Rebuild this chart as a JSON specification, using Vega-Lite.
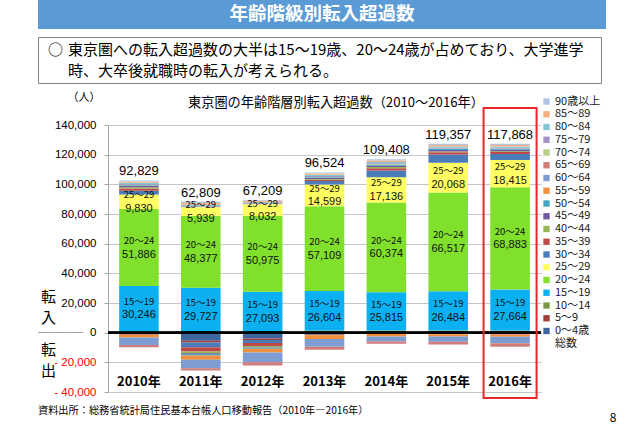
{
  "$schema": "https://vega.github.io/schema/vega-lite/v6.json",
  "padding": {"left": 37, "top": 0, "right": 0, "bottom": 0},
  "spacing": 7,
  "background": "white",
  "resolve": {"legend": {"color": "independent"}},
  "config": {
    "font": "Noto Sans CJK JP",
    "view": {"stroke": null},
    "axis": {"labelOverlap": false, "labelSeparation": -100},
    "axisY": {"labelOverlap": false, "labelSeparation": -100}
  },
  "datasets": {
    "mig": [
      {"year": "2010年", "0～4歳": -1033, "5～9": -300, "10～14": 1200, "15～19": 30246, "20～24": 51886, "25～29": 9830, "30～34": 2500, "35～39": 1500, "40～44": 800, "45～49": 900, "50～54": 600, "55～59": -2000, "60～64": -5000, "65～69": -1500, "70～74": 200, "75～79": 600, "80～84": 800, "85～89": 900, "90歳以上": 700},
      {"year": "2011年", "0～4歳": -5500, "5～9": -1200, "10～14": 500, "15～19": 29727, "20～24": 48377, "25～29": 5939, "30～34": -3200, "35～39": -2800, "40～44": -1200, "45～49": -500, "50～54": -1000, "55～59": -2800, "60～64": -5800, "65～69": -1534, "70～74": 300, "75～79": 500, "80～84": 900, "85～89": 1200, "90歳以上": 900},
      {"year": "2012年", "0～4歳": -4000, "5～9": -1000, "10～14": 500, "15～19": 27093, "20～24": 50975, "25～29": 8032, "30～34": -2000, "35～39": -2000, "40～44": -800, "45～49": -300, "50～54": -700, "55～59": -2600, "60～64": -6500, "65～69": -2191, "70～74": 200, "75～79": 400, "80～84": 700, "85～89": 800, "90歳以上": 600},
      {"year": "2013年", "0～4歳": -1300, "5～9": -400, "10～14": 1500, "15～19": 26604, "20～24": 57109, "25～29": 14599, "30～34": 2500, "35～39": 800, "40～44": 500, "45～49": 700, "50～54": 400, "55～59": -2500, "60～64": -5300, "65～69": -1988, "70～74": 300, "75～79": 600, "80～84": 800, "85～89": 900, "90歳以上": 700},
      {"year": "2014年", "0～4歳": -500, "5～9": -300, "10～14": 1500, "15～19": 25815, "20～24": 60374, "25～29": 17136, "30～34": 4500, "35～39": 1500, "40～44": 800, "45～49": 1000, "50～54": 700, "55～59": -1700, "60～64": -3500, "65～69": -1517, "70～74": 300, "75～79": 600, "80～84": 900, "85～89": 1000, "90歳以上": 800},
      {"year": "2015年", "0～4歳": -700, "5～9": -300, "10～14": 1500, "15～19": 26484, "20～24": 66517, "25～29": 20068, "30～34": 5500, "35～39": 1500, "40～44": 600, "45～49": 1000, "50～54": 800, "55～59": -1500, "60～64": -3700, "65～69": -1812, "70～74": 200, "75～79": 500, "80～84": 800, "85～89": 1000, "90歳以上": 900},
      {"year": "2016年", "0～4歳": -900, "5～9": -300, "10～14": 1500, "15～19": 27664, "20～24": 68883, "25～29": 18415, "30～34": 4000, "35～39": 1300, "40～44": 600, "45～49": 900, "50～54": 700, "55～59": -1600, "60～64": -4300, "65～69": -2394, "70～74": 200, "75～79": 500, "80～84": 800, "85～89": 1000, "90歳以上": 900}
    ],
    "ages": [
      {"age": "0～4歳", "o": 0}, {"age": "5～9", "o": 1}, {"age": "10～14", "o": 2}, {"age": "15～19", "o": 3},
      {"age": "20～24", "o": 4}, {"age": "25～29", "o": 5}, {"age": "30～34", "o": 6}, {"age": "35～39", "o": 7},
      {"age": "40～44", "o": 8}, {"age": "45～49", "o": 9}, {"age": "50～54", "o": 10}, {"age": "55～59", "o": 11},
      {"age": "60～64", "o": 12}, {"age": "65～69", "o": 13}, {"age": "70～74", "o": 14}, {"age": "75～79", "o": 15},
      {"age": "80～84", "o": 16}, {"age": "85～89", "o": 17}, {"age": "90歳以上", "o": 18}
    ]
  },
  "vconcat": [
    {
      "width": 568, "height": 29,
      "data": {"values": [{}]},
      "view": {"fill": "#5B9BD5", "stroke": null},
      "mark": {"type": "text", "color": "white", "fontSize": 18.5, "fontWeight": "bold", "font": "Noto Sans CJK JP", "dy": -0.5},
      "encoding": {"text": {"value": "年齢階級別転入超過数"}}
    },
    {
      "width": 563, "height": 46,
      "data": {"values": [{}]},
      "view": {"stroke": "#7F7F7F", "strokeWidth": 1, "fill": "white"},
      "layer": [
        {
          "mark": {"type": "text", "align": "left", "dx": 10, "dy": -10, "fontSize": 15, "color": "#000000"},
          "encoding": {
            "x": {"datum": 0, "type": "quantitative", "scale": {"domain": [0, 1]}, "axis": null},
            "text": {"value": "○"}
          }
        },
        {
          "mark": {"type": "text", "align": "left", "dx": 30, "dy": -10, "fontSize": 15, "lineHeight": 21, "color": "#000000"},
          "encoding": {
            "x": {"datum": 0, "type": "quantitative", "scale": {"domain": [0, 1]}, "axis": null},
            "text": {"value": ["東京圏への転入超過数の大半は15～19歳、20～24歳が占めており、大学進学", "時、大卒後就職時の転入が考えられる。"]}
          }
        }
      ]
    },
    {
      "spacing": 25,
      "bounds": "flush",
      "resolve": {"legend": {"color": "independent"}},
      "hconcat": [
        {
          "width": 45, "height": 267,
          "data": {"values": [{}]},
          "layer": [
            {
              "mark": {"type": "text", "dx": -12, "fontSize": 15, "lineHeight": 21, "font": "Noto Sans CJK JP", "color": "#000000"},
              "encoding": {
                "y": {"datum": 24000, "type": "quantitative", "scale": {"domain": [-40000, 140000], "nice": false}, "axis": null},
                "text": {"value": ["転", "入"]}
              }
            },
            {
              "mark": {"type": "text", "dx": -12, "fontSize": 15, "lineHeight": 21, "font": "Noto Sans CJK JP", "color": "#000000"},
              "encoding": {
                "y": {"datum": -11700, "type": "quantitative", "axis": null},
                "text": {"value": ["転", "出"]}
              }
            },
            {
              "mark": {"type": "text", "fontSize": 15, "font": "Noto Sans CJK JP", "color": "#595959"},
              "encoding": {
                "y": {"datum": 0, "type": "quantitative", "axis": null},
                "text": {"value": "───"}
              }
            },
            {
              "mark": {"type": "text", "align": "left", "fontSize": 10.2, "font": "Noto Sans CJK JP", "color": "#000000"},
              "encoding": {
                "x": {"datum": 0, "type": "quantitative", "scale": {"domain": [0, 1]}, "axis": null},
                "y": {"datum": -52800, "type": "quantitative", "axis": null},
                "text": {"value": "資料出所：総務省統計局住民基本台帳人口移動報告（2010年―2016年）"}
              }
            }
          ]
        },
        {
          "width": 433, "height": 267,
          "data": {"name": "mig"},
          "layer": [
            {
              "transform": [
                {"fold": ["0～4歳", "5～9", "10～14", "15～19", "20～24", "25～29", "30～34", "35～39", "40～44", "45～49", "50～54", "55～59", "60～64", "65～69", "70～74", "75～79", "80～84", "85～89", "90歳以上"], "as": ["age", "v"]},
                {"lookup": "age", "from": {"data": {"name": "ages"}, "key": "age", "fields": ["o"]}}
              ],
              "mark": {"type": "bar"},
              "encoding": {
                "x": {"field": "year", "type": "nominal", "sort": null, "axis": null, "scale": {"paddingInner": 0.36, "paddingOuter": 0.18}},
                "y": {
                  "field": "v", "type": "quantitative", "stack": "zero",
                  "scale": {"domain": [-40000, 140000], "nice": false},
                  "axis": {
                    "values": [-40000, -20000, 0, 20000, 40000, 60000, 80000, 100000, 120000, 140000],
                    "labelOverlap": false, "labelSeparation": -100, "labelBound": false, "labelFlush": false,
                    "labelExpr": "datum.value < 0 ? '- ' + format(-datum.value, ',') : format(datum.value, ',')",
                    "labelColor": {"condition": {"test": "datum.value < 0", "value": "#FF0000"}, "value": "#000000"},
                    "labelFont": "Liberation Sans", "labelFontSize": 11.5,
                    "labelPadding": 8,
                    "grid": true, "gridColor": "#C6C6C6", "gridWidth": 1,
                    "domain": true, "domainColor": "#A6A6A6",
                    "ticks": true, "tickSize": 4, "tickColor": "#A6A6A6",
                    "title": "（人）", "titleAngle": 0, "titleX": -41, "titleY": -27.5,
                    "titleAlign": "left", "titleBaseline": "middle", "titleFontSize": 11,
                    "titleFontWeight": "normal", "titleFont": "Noto Sans CJK JP", "titleColor": "#000000"
                  }
                },
                "color": {
                  "field": "age", "type": "nominal",
                  "scale": {
                    "domain": ["0～4歳", "5～9", "10～14", "15～19", "20～24", "25～29", "30～34", "35～39", "40～44", "45～49", "50～54", "55～59", "60～64", "65～69", "70～74", "75～79", "80～84", "85～89", "90歳以上", "総数"],
                    "range": ["#3D659F", "#A23D3A", "#7B9843", "#0AB0F0", "#80E02B", "#FFFF62", "#4A7CBA", "#BD4A47", "#96B653", "#7359A0", "#43A6C0", "#F2903F", "#7D9DD3", "#D07D7B", "#B8CE8B", "#A493C3", "#82C5D7", "#F8B080", "#B3C5E5", "rgba(0,0,0,0)"]
                  },
                  "legend": {
                    "orient": "none", "legendX": 433, "legendY": -29, "title": null, "padding": 0,
                    "values": ["90歳以上", "85～89", "80～84", "75～79", "70～74", "65～69", "60～64", "55～59", "50～54", "45～49", "40～44", "35～39", "30～34", "25～29", "20～24", "15～19", "10～14", "5～9", "0～4歳", "総数"],
                    "symbolType": "square", "symbolSize": 40, "symbolStrokeWidth": 0,
                    "labelFont": "Noto Sans CJK JP", "labelFontSize": 11, "labelColor": "#1A1A1A",
                    "labelOffset": 3, "rowPadding": 0.75
                  }
                },
                "order": {"field": "o", "type": "quantitative"}
              }
            },
            {
              "transform": [
                {"fold": ["0～4歳", "5～9", "10～14", "15～19", "20～24", "25～29", "30～34", "35～39", "40～44", "45～49", "50～54", "55～59", "60～64", "65～69", "70～74", "75～79", "80～84", "85～89", "90歳以上"], "as": ["age", "v"]},
                {"lookup": "age", "from": {"data": {"name": "ages"}, "key": "age", "fields": ["o"]}},
                {"stack": "v", "groupby": ["year"], "sort": [{"field": "o", "order": "ascending"}], "as": ["v0", "v1"], "offset": "zero"},
                {"filter": {"field": "age", "oneOf": ["15～19", "20～24", "25～29"]}},
                {"calculate": "(datum.v0 + datum.v1) / 2", "as": "mid"}
              ],
              "layer": [
                {
                  "mark": {"type": "text", "dy": -6.5, "fontSize": 9.5, "font": "Noto Sans CJK JP", "color": "#111111"},
                  "encoding": {
                    "x": {"field": "year", "type": "nominal", "sort": null},
                    "y": {"field": "mid", "type": "quantitative", "axis": {"values": [-40000, -20000, 0, 20000, 40000, 60000, 80000, 100000, 120000, 140000], "labelOverlap": false, "labelSeparation": -100}},
                    "text": {"field": "age", "type": "nominal"}
                  }
                },
                {
                  "mark": {"type": "text", "dy": 7, "fontSize": 11, "font": "Liberation Sans Narrow, Liberation Sans, sans-serif", "color": "#111111"},
                  "encoding": {
                    "x": {"field": "year", "type": "nominal", "sort": null},
                    "y": {"field": "mid", "type": "quantitative", "axis": {"values": [-40000, -20000, 0, 20000, 40000, 60000, 80000, 100000, 120000, 140000], "labelOverlap": false, "labelSeparation": -100}},
                    "text": {"field": "v", "type": "quantitative", "format": ","}
                  }
                }
              ]
            },
            {
              "transform": [
                {"fold": ["0～4歳", "5～9", "10～14", "15～19", "20～24", "25～29", "30～34", "35～39", "40～44", "45～49", "50～54", "55～59", "60～64", "65～69", "70～74", "75～79", "80～84", "85～89", "90歳以上"], "as": ["age", "v"]},
                {"joinaggregate": [{"op": "sum", "field": "v", "as": "total"}], "groupby": ["year"]},
                {"filter": "datum.v > 0"},
                {"aggregate": [{"op": "sum", "field": "v", "as": "top"}], "groupby": ["year", "total"]}
              ],
              "mark": {"type": "text", "dy": -9, "fontSize": 13, "font": "Liberation Sans Narrow, Liberation Sans, sans-serif", "color": "#000000"},
              "encoding": {
                "x": {"field": "year", "type": "nominal", "sort": null},
                "y": {"field": "top", "type": "quantitative", "axis": {"values": [-40000, -20000, 0, 20000, 40000, 60000, 80000, 100000, 120000, 140000], "labelOverlap": false, "labelSeparation": -100}},
                "text": {"field": "total", "type": "quantitative", "format": ","}
              }
            },
            {
              "mark": {"type": "rule", "color": "#000000", "strokeWidth": 2},
              "encoding": {"y": {"datum": 0, "axis": {"values": [-40000, -20000, 0, 20000, 40000, 60000, 80000, 100000, 120000, 140000], "labelOverlap": false, "labelSeparation": -100}}}
            },
            {
              "mark": {"type": "text", "fontSize": 13, "fontWeight": "bold", "font": "Noto Sans CJK JP", "color": "#000000"},
              "encoding": {
                "x": {"field": "year", "type": "nominal", "sort": null},
                "y": {"datum": -33000, "axis": {"values": [-40000, -20000, 0, 20000, 40000, 60000, 80000, 100000, 120000, 140000], "labelOverlap": false, "labelSeparation": -100}},
                "text": {"field": "year", "type": "nominal"}
              }
            },
            {
              "data": {"values": [{}]},
              "mark": {"type": "bar", "width": 53, "filled": false, "stroke": "#E8262B", "strokeWidth": 2},
              "encoding": {
                "x": {"datum": "2016年"},
                "y": {"datum": 151500, "axis": {"values": [-40000, -20000, 0, 20000, 40000, 60000, 80000, 100000, 120000, 140000], "labelOverlap": false, "labelSeparation": -100}},
                "y2": {"datum": -44000}
              }
            },
            {
              "data": {"values": [{}]},
              "mark": {"type": "text", "dx": 11.5, "fontSize": 13.2, "font": "Noto Sans CJK JP", "color": "#000000"},
              "encoding": {
                "x": {"datum": "2013年"},
                "y": {"datum": 154800, "axis": {"values": [-40000, -20000, 0, 20000, 40000, 60000, 80000, 100000, 120000, 140000], "labelOverlap": false, "labelSeparation": -100}},
                "text": {"value": "東京圏の年齢階層別転入超過数（2010～2016年）"}
              }
            },
            {
              "data": {"values": [{}]},
              "mark": {"type": "text", "dx": 103, "fontSize": 12, "font": "Noto Sans CJK JP", "color": "#000000"},
              "encoding": {
                "x": {"datum": "2016年"},
                "y": {"datum": -57500, "axis": {"values": [-40000, -20000, 0, 20000, 40000, 60000, 80000, 100000, 120000, 140000], "labelOverlap": false, "labelSeparation": -100}},
                "text": {"value": "8"}
              }
            }
          ]
        }
      ]
    }
  ]
}
